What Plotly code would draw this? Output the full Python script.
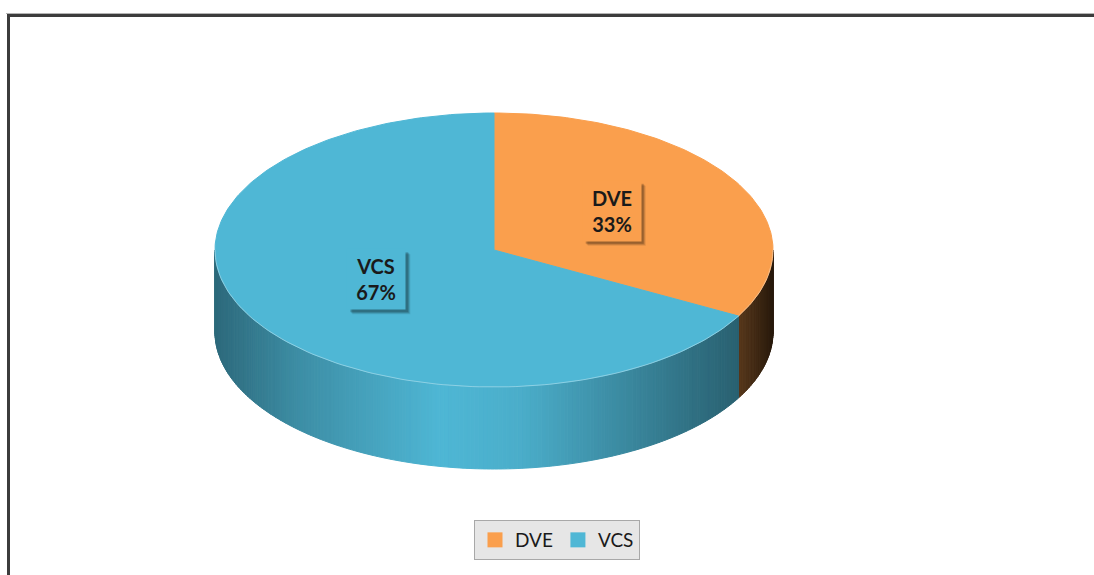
import math
import plotly.graph_objects as go

# Data
labels = ["DVE", "VCS"]
values = [33, 67]
top_colors = ["#FA9F4D", "#4FB7D5"]

# Layout of the drawing in pixel space (x right, y down)
W, H = 1094, 575
CX, CY = 494, 250        # centre of the top face
RX, RY = 279, 137        # radii of the top ellipse
DEPTH = 82               # thickness of the disc


def pt(phi_deg, dy=0.0, r=1.0):
    """Point on the tilted disc; phi measured clockwise from 12 o'clock."""
    a = math.radians(phi_deg)
    return CX + r * RX * math.sin(a), CY - r * RY * math.cos(a) + dy


def hex_rgb(h):
    h = h.lstrip("#")
    return tuple(int(h[i:i + 2], 16) for i in (0, 2, 4))


def interp(profile, x):
    if x <= profile[0][0]:
        return profile[0][1]
    for (x0, v0), (x1, v1) in zip(profile, profile[1:]):
        if x <= x1:
            return v0 + (v1 - v0) * (x - x0) / (x1 - x0)
    return profile[-1][1]


# Side lighting (brightness multiplier by x position) for each slice
side_light = {
    "VCS": [(215, 0.58), (300, 0.78), (440, 1.0), (520, 0.95), (620, 0.76),
            (700, 0.6), (745, 0.52)],
    "DVE": [(735, 0.37), (755, 0.26), (773, 0.16)],
}

total = sum(values)
bounds = []
start = 0.0
for v in values:
    end = start + 360.0 * v / total
    bounds.append((start, end))
    start = end

fig = go.Figure()

# Visible side wall (front half: phi 90..270), drawn as thin shaded strips
for lab, col, (a0, a1) in zip(labels, top_colors, bounds):
    lo, hi = max(a0, 90.0), min(a1, 270.0)
    if lo >= hi:
        continue
    n = max(2, int((hi - lo) / 0.8))
    base = hex_rgb(col)
    for i in range(n):
        p0 = lo + (hi - lo) * i / n
        p1 = lo + (hi - lo) * (i + 1) / n
        x0, y0 = pt(p0)
        x1, y1 = pt(p1)
        m = interp(side_light[lab], (x0 + x1) / 2)
        c = "rgb(%d,%d,%d)" % tuple(min(255, int(ch * m)) for ch in base)
        fig.add_trace(go.Scatter(
            x=[x0, x1, x1, x0, x0], y=[y0, y1, y1 + DEPTH, y0 + DEPTH, y0],
            mode="lines", fill="toself", fillcolor=c,
            line=dict(color=c, width=1), hoverinfo="skip", showlegend=False))

# Top face slices
for lab, col, (a0, a1) in zip(labels, top_colors, bounds):
    n = max(2, int((a1 - a0) / 1.0))
    xs, ys = [CX], [CY]
    for i in range(n + 1):
        x, y = pt(a0 + (a1 - a0) * i / n)
        xs.append(x)
        ys.append(y)
    xs.append(CX)
    ys.append(CY)
    fig.add_trace(go.Scatter(
        x=xs, y=ys, mode="lines", fill="toself", fillcolor=col,
        line=dict(color=col, width=1), name=lab, hoverinfo="skip",
        showlegend=False))

# Faint highlight along the front rim of the top face
rim = [pt(90 + 180 * i / 120) for i in range(121)]
fig.add_trace(go.Scatter(
    x=[p[0] for p in rim], y=[p[1] for p in rim], mode="lines",
    line=dict(color="rgba(255,255,255,0.35)", width=1),
    hoverinfo="skip", showlegend=False))

# Legend entries
for lab, col in zip(labels, top_colors):
    fig.add_trace(go.Scatter(
        x=[None], y=[None], mode="markers", name=lab,
        marker=dict(symbol="square", size=15, color=col)))

# Data labels with drop shadow
shapes = []
annotations = []
BOX_W, BOX_H = 58, 60
for lab, v, col, (a0, a1) in zip(labels, values, top_colors, bounds):
    mid = (a0 + a1) / 2
    lx, ly = pt(mid, dy=-5, r=0.49)
    for k, alpha in ((5, 0.10), (4, 0.15), (3, 0.2)):
        shapes.append(dict(
            type="rect", xref="x", yref="y", layer="above",
            x0=lx - BOX_W / 2 + k, x1=lx + BOX_W / 2 + k,
            y0=ly - BOX_H / 2 + k, y1=ly + BOX_H / 2 + k,
            fillcolor="rgba(0,0,0,%.2f)" % alpha, line=dict(width=0)))
    pct = round(100 * v / total)
    annotations.append(dict(
        x=lx, y=ly, xref="x", yref="y", showarrow=False,
        text="<b>%s</b><br><b>%d%%</b>" % (lab, pct),
        font=dict(family="Lato, sans-serif", size=20, color="#1a1a1a"),
        bgcolor=col, width=BOX_W, height=BOX_H, borderpad=0,
        align="center", valign="middle"))

# Chart frame
shapes.append(dict(type="rect", xref="x", yref="y", layer="above",
                   x0=8.5, y0=15.5, x1=W + 20, y1=H + 20,
                   line=dict(color="#3c3c3c", width=3),
                   fillcolor="rgba(0,0,0,0)"))
shapes.append(dict(type="line", xref="x", yref="y", layer="above",
                   x0=6, y0=13.5, x1=W + 20, y1=13.5,
                   line=dict(color="#b4b4b4", width=1)))

fig.update_layout(
    width=W, height=H,
    margin=dict(l=0, r=0, t=0, b=0),
    paper_bgcolor="white", plot_bgcolor="white",
    xaxis=dict(range=[0, W], visible=False, fixedrange=True),
    yaxis=dict(range=[H, 0], visible=False, fixedrange=True),
    shapes=shapes, annotations=annotations,
    showlegend=True,
    legend=dict(orientation="h", x=557 / W, xanchor="center",
                y=1 - 520 / H, yanchor="top",
                bgcolor="#e6e6e6", bordercolor="#a8a8a8", borderwidth=1,
                font=dict(family="Lato, sans-serif", size=19, color="#1a1a1a"),
                itemsizing="trace", tracegroupgap=0),
)

fig.write_html("out.html")
